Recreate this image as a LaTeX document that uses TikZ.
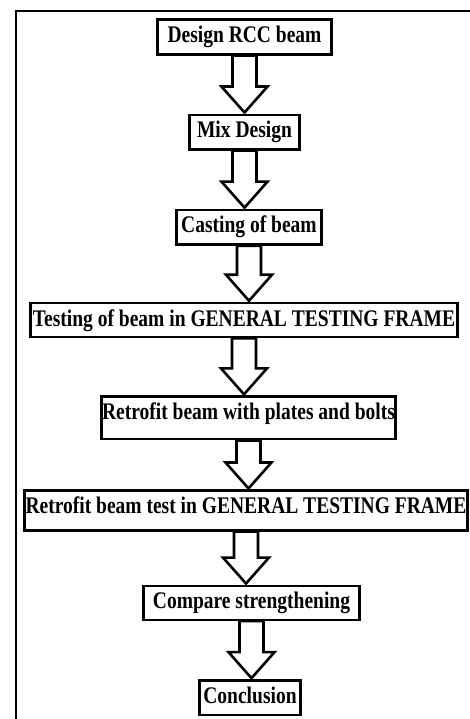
\documentclass[tikz,border=0pt]{standalone}
\usepackage{fontspec}
\usetikzlibrary{positioning,calc}
\newfontfamily\boxfont{Liberation Serif}[FakeStretch=0.82]

\newcommand{\fatarrow}[2]{%
  \draw[blockarrow] let \p1=(#1.south), \p2=(#2.north) in
    (\x1-12pt,\y1) -- (\x1-12pt,\y2+27pt) -- (\x1-23pt,\y2+27pt) -- (\x1,\y2+1pt)
    -- (\x1+23pt,\y2+27pt) -- (\x1+12pt,\y2+27pt) -- (\x1+12pt,\y1) -- cycle;}

\begin{document}
\begin{tikzpicture}[
  x=1pt, y=-1pt,
  node distance=57pt,
  stepbox/.style={draw, line width=2.6pt, fill=white, inner xsep=0pt, inner ysep=0pt,
                  text height=23pt, text depth=11.5pt,
                  font={\boxfont\bfseries\fontsize{23.8}{27}\selectfont}},
  blockarrow/.style={draw, line width=2.6pt, fill=white, line join=miter}
]
  \useasboundingbox (0,0) rectangle (470,719);
  % outer frame, cut off at right and bottom
  \draw[line width=2pt] (16,719) -- (16,11) -- (470,11);

  \node[stepbox, minimum width=174pt] (design) at (244.5,37) {Design RCC beam};
  \node[stepbox, minimum width=110pt, below=58pt of design] (mix) {Mix Design};
  \node[stepbox, minimum width=145pt, below=58pt of mix, xshift=4.5pt] (cast) {Casting of beam};
  \node[stepbox, minimum width=427pt, text depth=11pt, below=56pt of cast, xshift=-5pt] (test)
    {Testing of beam in GENERAL TESTING FRAME};
  \node[stepbox, minimum width=294pt, text depth=19.5pt, below=57pt of test, xshift=4.5pt] (retro)
    {Retrofit beam with plates and bolts};
  \node[stepbox, minimum width=443pt, text depth=16.5pt, below=49pt of retro, xshift=-2.5pt] (retest)
    {Retrofit beam test in GENERAL TESTING FRAME};
  \node[stepbox, minimum width=216pt, text depth=11pt, below=53pt of retest, xshift=5.5pt] (comp)
    {Compare strengthening};
  \node[stepbox, minimum width=101pt, below=58pt of comp, xshift=-1.5pt] (concl) {Conclusion};

  \foreach \a/\b in {design/mix,mix/cast,cast/test,test/retro,retro/retest,retest/comp,comp/concl}
    \fatarrow{\a}{\b};
\end{tikzpicture}
\end{document}
